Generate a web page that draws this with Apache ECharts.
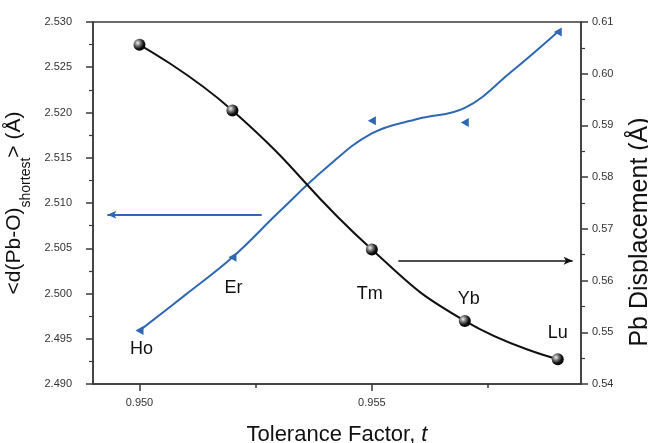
<!DOCTYPE html>
<html>
<head>
<meta charset="utf-8">
<script src="https://cdn.jsdelivr.net/npm/echarts@6/dist/echarts.min.js"></script>
<style>
  html, body { margin: 0; padding: 0; background: #fff; }
  #chart { width: 648px; height: 443px; }
</style>
</head>
<body>
<div id="chart"></div>
<script>
// Rare-earth series, tolerance factor t
const ions = ['Ho', 'Er', 'Tm', 'Yb', 'Lu'];
const tolerance = [0.950, 0.952, 0.955, 0.957, 0.959];
// <d(Pb-O)shortest> in Å (left axis), measured points
const pbOShortest = [2.4959, 2.5040, 2.5191, 2.5189, 2.5289];
// smoothed guide curve for <d(Pb-O)shortest>
const guideT = [0.950, 0.951, 0.952, 0.953, 0.954, 0.955, 0.956, 0.957, 0.958, 0.959];
const guidePbO = [2.4959, 2.4999, 2.5040, 2.5090, 2.5138, 2.5177, 2.5193, 2.5205, 2.5245, 2.5289];
// Pb displacement in Å (right axis)
const pbDisplacement = [0.6056, 0.5929, 0.5660, 0.5522, 0.5448];

const xMajorTicks = [0.950, 0.955];
const xMinorTicks = [0.9525, 0.9575];

const BLUE = '#2f68b2';
const INK = '#111';
const AXIS = '#3a3a3a';
const FONT = 'Liberation Sans, Arial, sans-serif';

// which series carries each ion's label, and where the label sits
const labelOn = { Ho: 'blue', Er: 'blue', Tm: 'black', Yb: 'black', Lu: 'black' };
const labelOffset = { Ho: [2, 18], Er: [1, 31], Tm: [-2, 44], Yb: [4, -22], Lu: [0, -26] };

function pointLabel(name) {
  return {
    show: true,
    formatter: name,
    position: 'inside',
    offset: labelOffset[name],
    fontFamily: FONT,
    fontSize: 18,
    color: INK,
    opacity: 1
  };
}

const blueData = tolerance.map((t, i) => {
  const d = { value: [t, pbOShortest[i]] };
  if (labelOn[ions[i]] === 'blue') d.label = pointLabel(ions[i]);
  return d;
});
const blackData = tolerance.map((t, i) => {
  const d = { value: [t, pbDisplacement[i]] };
  if (labelOn[ions[i]] === 'black') d.label = pointLabel(ions[i]);
  return d;
});
const guideData = guideT.map((t, i) => [t, guidePbO[i]]);

const sphere = {
  type: 'radial', x: 0.35, y: 0.35, r: 0.7,
  colorStops: [
    { offset: 0, color: '#f4f4f4' },
    { offset: 0.3, color: '#888' },
    { offset: 0.7, color: '#111' },
    { offset: 1, color: '#000' }
  ]
};

const tickLabelStyle = { fontFamily: FONT, fontSize: 11, color: '#333' };

const chart = echarts.init(document.getElementById('chart'), null, { renderer: 'canvas' });
chart.setOption({
  backgroundColor: '#fff',
  animation: false,
  grid: {
    left: 93, right: 67, top: 22, bottom: 59,
    containLabel: false,
    outerBoundsMode: 'none',
    show: true, borderColor: AXIS, borderWidth: 1.5, backgroundColor: 'transparent'
  },
  xAxis: [{
    type: 'value', min: 0.949, max: 0.9595,
    name: '{n|Tolerance Factor, }{i|t}',
    nameLocation: 'middle', nameGap: 40,
    nameTextStyle: {
      rich: {
        n: { fontFamily: FONT, fontSize: 22, color: INK },
        i: { fontFamily: FONT, fontSize: 22, color: INK, fontStyle: 'italic' }
      }
    },
    axisLine: { show: true, lineStyle: { color: AXIS, width: 1.5 } },
    axisTick: { show: true, customValues: xMajorTicks, length: 7, lineStyle: { color: AXIS, width: 1.5 } },
    axisLabel: Object.assign({ customValues: xMajorTicks, margin: 13, formatter: v => v.toFixed(3) }, tickLabelStyle),
    splitLine: { show: false }
  }, {
    type: 'value', min: 0.949, max: 0.9595, position: 'bottom',
    axisLine: { show: false },
    axisTick: { show: true, customValues: xMinorTicks, length: 4, lineStyle: { color: AXIS, width: 1.5 } },
    axisLabel: { show: false },
    splitLine: { show: false }
  }],
  yAxis: [{
    type: 'value', position: 'left', min: 2.490, max: 2.530, interval: 0.005,
    name: '{n|<d(Pb-O)}{s|shortest}{n|> (Å)}',
    nameLocation: 'middle', nameGap: 51,
    nameTextStyle: {
      rich: {
        n: { fontFamily: FONT, fontSize: 21, color: INK, lineHeight: 26, verticalAlign: 'middle' },
        s: { fontFamily: FONT, fontSize: 14, color: INK, lineHeight: 26, verticalAlign: 'bottom', padding: [0, 0, -6, 0] }
      }
    },
    axisLine: { show: true, lineStyle: { color: AXIS, width: 1.5 } },
    axisTick: { show: true, length: 7, lineStyle: { color: AXIS, width: 1.5 } },
    minorTick: { show: true, splitNumber: 2, length: 4, lineStyle: { color: AXIS, width: 1.2 } },
    axisLabel: Object.assign({ margin: 21, formatter: v => v.toFixed(3) }, tickLabelStyle),
    splitLine: { show: false }
  }, {
    type: 'value', position: 'right', min: 0.54, max: 0.61, interval: 0.01,
    name: 'Pb Displacement (Å)',
    nameLocation: 'middle', nameGap: 47, nameRotate: 90,
    nameTextStyle: { fontFamily: FONT, fontSize: 25, color: INK, padding: [0, 58, 0, 0] },
    axisLine: { show: true, lineStyle: { color: AXIS, width: 1.5 } },
    axisTick: { show: true, length: 7, lineStyle: { color: AXIS, width: 1.5 } },
    minorTick: { show: true, splitNumber: 2, length: 4, lineStyle: { color: AXIS, width: 1.2 } },
    axisLabel: Object.assign({ margin: 11, formatter: v => v.toFixed(2) }, tickLabelStyle),
    splitLine: { show: false }
  }],
  series: [{
    name: 'd(Pb-O) shortest guide',
    type: 'line',
    yAxisIndex: 0,
    smooth: 0.4,
    data: guideData,
    showSymbol: false,
    symbol: 'none',
    lineStyle: { color: BLUE, width: 2 },
    z: 2,
    markLine: {
      silent: true,
      symbol: ['none', 'arrow'],
      symbolSize: [6, 9],
      lineStyle: { color: BLUE, width: 1.8, type: 'solid' },
      label: { show: false },
      data: [[{ coord: [0.95263, 2.5087] }, { coord: [0.94931, 2.5087] }]]
    }
  }, {
    name: 'd(Pb-O) shortest',
    type: 'scatter',
    yAxisIndex: 0,
    data: blueData,
    symbol: 'triangle',
    symbolSize: [9, 8],
    symbolRotate: 90,
    itemStyle: { color: BLUE, opacity: 1 },
    z: 3
  }, {
    name: 'Pb displacement',
    type: 'line',
    yAxisIndex: 1,
    smooth: 0.5,
    data: blackData,
    symbol: 'circle',
    symbolSize: 12,
    itemStyle: { color: sphere, borderWidth: 0 },
    lineStyle: { color: INK, width: 2 },
    z: 4,
    markLine: {
      silent: true,
      symbol: ['none', 'arrow'],
      symbolSize: [6, 9],
      lineStyle: { color: INK, width: 1.5, type: 'solid' },
      label: { show: false },
      data: [[{ coord: [0.95557, 0.56384] }, { coord: [0.95932, 0.56384] }]]
    }
  }]
});
</script>
</body>
</html>
